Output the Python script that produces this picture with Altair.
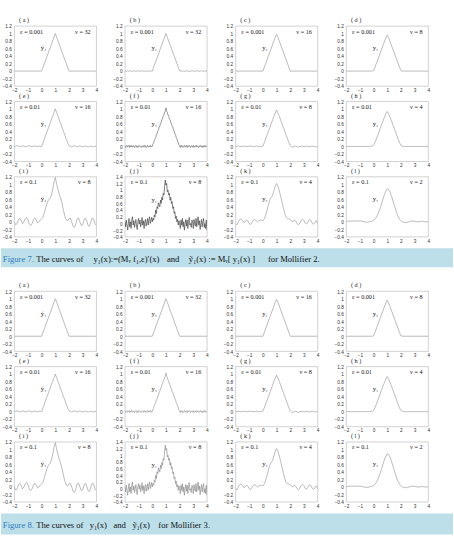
import altair as alt
import numpy as np
import pandas as pd

SERIF = "Liberation Serif"
SANS = "Liberation Sans"
BAND = "#bcdfea"
FIGBLUE = "#2f7cc0"

X_TICKS = [-2, -1, 0, 1, 2, 3, 4]
Y_TICKS = [-0.4, -0.2, 0, 0.2, 0.4, 0.6, 0.8, 1, 1.2]
Y_TICKS_J = [-0.4, -0.2, 0, 0.2, 0.4, 0.6, 0.8, 1, 1.2, 1.4]

# clean / nearly clean triangles
A_X = [-2, 0, 1, 2, 4]
A_Y = [0, 0, 1, 0, 0]
C_X = [-2, 0, 0.9, 1, 1.1, 2, 4]
C_Y = [0, 0, 0.9, 0.98, 0.9, 0, 0]
D_X = [-2, -0.1, 0, 0.1, 0.9, 1, 1.1, 1.9, 2, 2.1, 4]
D_Y = [0, 0, 0.01, 0.1, 0.89, 0.96, 0.89, 0.1, 0.01, 0, 0]

# samples every 0.1 from -2 to 4
B_Y = [0.01, -0.01, 0.01, -0.005, 0.01, -0.01, 0.005, 0.01, -0.01, 0.0,
       0.01, -0.01, 0.01, -0.005, 0.005, -0.01, 0.01, -0.01, 0.005, 0.0,
       0.0, 0.1, 0.21, 0.3, 0.4, 0.5, 0.61, 0.7, 0.8, 0.9, 1.0,
       0.9, 0.8, 0.7, 0.6, 0.5, 0.4, 0.3, 0.2, 0.1, 0.0,
       0.01, -0.01, 0.005, -0.01, 0.01, 0.0, -0.01, 0.01, -0.005, 0.01,
       -0.01, 0.005, 0.01, -0.01, 0.0, 0.01, -0.01, 0.005, -0.005, 0.01]
E_Y = [0.0, 0.01, 0.02, 0.01, -0.01, 0.0, 0.015, 0.01, -0.005, 0.0,
       0.01, 0.02, 0.0, -0.01, 0.005, 0.015, 0.0, -0.005, 0.01, 0.0,
       0.0, 0.1, 0.2, 0.31, 0.4, 0.5, 0.6, 0.71, 0.8, 0.9, 1.0,
       0.9, 0.8, 0.7, 0.6, 0.5, 0.4, 0.3, 0.19, 0.1, 0.02,
       0.0, -0.01, 0.01, 0.02, 0.0, -0.01, 0.005, 0.015, 0.0, -0.01,
       0.0, 0.01, 0.0, -0.015, 0.0, 0.01, 0.005, -0.01, 0.0, 0.01]
G_Y = [0.0, 0.005, 0.01, 0.0, -0.005, 0.0, 0.01, 0.005, -0.005, 0.0,
       0.005, 0.01, 0.0, -0.005, 0.0, 0.01, 0.005, -0.005, 0.0, 0.005,
       0.01, 0.1, 0.2, 0.3, 0.4, 0.5, 0.6, 0.7, 0.8, 0.89, 0.97,
       0.89, 0.8, 0.7, 0.6, 0.5, 0.4, 0.3, 0.2, 0.1, 0.02,
       -0.01, -0.02, 0.0, 0.01, -0.01, -0.02, 0.0, 0.01, 0.0, -0.01,
       0.0, 0.01, -0.005, -0.01, 0.0, 0.01, 0.0, -0.01, -0.005, 0.0]
H_Y = [0, 0, 0, 0, 0, 0, 0, 0, 0, 0, 0, 0, 0, 0, 0, 0, 0, 0, 0.005, 0.01,
       0.03, 0.1, 0.19, 0.29, 0.39, 0.49, 0.59, 0.69, 0.78, 0.87, 0.93,
       0.87, 0.78, 0.69, 0.59, 0.49, 0.39, 0.29, 0.19, 0.1,
       0.03, 0.01, 0.0, -0.005, -0.005, 0, 0, 0, 0, 0, 0, 0, 0, 0, 0, 0, 0, 0, 0, 0, 0]
I_Y = [0.0, -0.08, -0.05, 0.05, 0.1, 0.03, -0.05, 0.0, 0.08, 0.12,
       0.05, -0.06, -0.1, -0.05, 0.05, 0.1, 0.05, -0.03, 0.0, 0.05,
       0.08, 0.12, 0.25, 0.38, 0.5, 0.58, 0.62, 0.7, 0.85, 1.05,
       1.18, 1.0, 0.85, 0.72, 0.62, 0.48, 0.3, 0.15, 0.05, 0.02,
       0.08, 0.1, 0.0, -0.12, -0.15, -0.05, 0.08, 0.1, 0.0, -0.1,
       -0.08, 0.05, 0.1, 0.02, -0.1, -0.12, 0.0, 0.1, 0.08, -0.05, -0.1]
K_Y = [-0.05, -0.08, 0.0, 0.06, 0.08, 0.04, -0.02, 0.0, 0.05, 0.02,
       -0.05, -0.07, -0.02, 0.04, 0.06, 0.03, 0.0, 0.02, 0.05, 0.04,
       0.03, 0.08, 0.18, 0.3, 0.45, 0.58, 0.65, 0.7, 0.82, 0.95,
       1.02, 0.95, 0.82, 0.68, 0.52, 0.36, 0.22, 0.12, 0.08, 0.08,
       0.06, 0.02, 0.0, 0.05, 0.02, -0.05, -0.08, -0.03, 0.04, 0.07,
       0.03, -0.04, -0.06, 0.0, 0.06, 0.04, -0.03, -0.07, -0.02, 0.03, -0.05]
L_Y = [0.0, 0.01, 0.02, 0.02, 0.02, 0.02, 0.02, 0.02, 0.02, 0.02,
       0.02, 0.02, 0.01, 0.0, -0.01, -0.01, -0.01, 0.0, 0.01, 0.02,
       0.04, 0.07, 0.12, 0.19, 0.28, 0.38, 0.5, 0.62, 0.73, 0.82,
       0.88, 0.86, 0.8, 0.7, 0.58, 0.46, 0.34, 0.23, 0.14, 0.07,
       0.03, 0.0, -0.01, -0.02, -0.02, -0.01, 0.0, 0.01, 0.02, 0.02,
       0.01, 0.01, 0.0, 0.0, 0.0, 0.01, 0.01, 0.0, 0.0, 0.0, 0.0]

# samples every 0.05 from -2 to 4
F_Y = [0.02, -0.03, 0.01, 0.03, -0.02, 0.0, 0.03, -0.03, 0.02, -0.01,
       0.03, -0.02, 0.01, 0.02, -0.03, 0.0, 0.03, -0.02, 0.01, -0.03,
       0.02, 0.03, -0.01, 0.0, -0.03, 0.02, 0.01, -0.02, 0.03, -0.01,
       0.02, -0.03, 0.0, 0.03, -0.02, 0.01, -0.01, 0.03, -0.02, 0.01,
       0.0, 0.07, 0.09, 0.17, 0.2, 0.23, 0.32, 0.33, 0.42, 0.43,
       0.52, 0.53, 0.62, 0.63, 0.72, 0.73, 0.82, 0.83, 0.92, 0.93,
       1.03, 0.93, 0.92, 0.83, 0.82, 0.73, 0.72, 0.63, 0.62, 0.53,
       0.52, 0.43, 0.42, 0.33, 0.32, 0.23, 0.22, 0.13, 0.12, 0.03,
       0.02, -0.03, 0.03, -0.01, 0.02, -0.03, 0.0, 0.03, -0.02, 0.01,
       0.03, -0.03, 0.02, -0.01, 0.03, 0.0, -0.03, 0.02, 0.01, -0.02,
       0.03, -0.03, 0.0, 0.02, -0.02, 0.03, -0.01, 0.01, -0.03, 0.02,
       0.0, 0.03, -0.02, 0.01, -0.03, 0.02, -0.01, 0.03, -0.02, 0.0, 0.02]
J_Y = [0.05, -0.1, 0.1, -0.05, -0.2, 0.0, 0.15, -0.1, 0.05, -0.15,
       0.1, 0.2, -0.05, 0.08, -0.12, 0.0, 0.12, -0.08, -0.18, 0.05,
       0.15, -0.02, 0.1, -0.1, 0.0, 0.18, -0.05, 0.08, -0.15, 0.05,
       0.12, -0.08, 0.02, 0.15, -0.05, 0.1, 0.2, 0.0, 0.08, 0.18,
       0.05, 0.15, 0.1, 0.25, 0.2, 0.4, 0.3, 0.5, 0.45, 0.62,
       0.55, 0.5, 0.7, 0.6, 0.78, 0.7, 0.9, 0.85, 1.1, 1.3,
       1.15, 1.2, 0.95, 1.0, 0.85, 0.9, 0.7, 0.78, 0.6, 0.65,
       0.45, 0.5, 0.3, 0.35, 0.15, 0.22, 0.05, 0.12, -0.05, 0.08,
       0.0, -0.15, 0.1, -0.05, 0.15, -0.1, 0.05, -0.2, 0.0, 0.12,
       -0.08, 0.1, -0.15, 0.05, 0.18, -0.05, 0.0, -0.12, 0.1, 0.05,
       -0.15, 0.12, 0.0, -0.08, 0.15, -0.1, 0.05, 0.2, -0.05, 0.08,
       -0.18, 0.0, 0.12, -0.1, 0.05, 0.15, -0.12, 0.0, -0.15, 0.1, -0.2]

YT = "ỹ₁"
YP = "y₁"
GRAY = "#9a9a9a"

# letter, eps, nu, label, xs, ys, color, yticks
FIG7 = [
    ("a", "0.001", "32", YT, A_X, A_Y, GRAY, Y_TICKS),
    ("b", "0.001", "32", YP, None, B_Y, GRAY, Y_TICKS),
    ("c", "0.001", "16", YP, C_X, C_Y, GRAY, Y_TICKS),
    ("d", "0.001", "8", YP, D_X, D_Y, GRAY, Y_TICKS),
    ("e", "0.01", "16", YT, None, E_Y, GRAY, Y_TICKS),
    ("f", "0.01", "16", YP, None, F_Y, "#707070", Y_TICKS),
    ("g", "0.01", "8", YP, None, G_Y, GRAY, Y_TICKS),
    ("h", "0.01", "4", YP, None, H_Y, GRAY, Y_TICKS),
    ("i", "0.1", "8", YT, None, I_Y, GRAY, Y_TICKS),
    ("j", "0.1", "8", YP, None, J_Y, "#404040", Y_TICKS_J),
    ("k", "0.1", "4", YP, None, K_Y, GRAY, Y_TICKS),
    ("l", "0.1", "2", YP, None, L_Y, GRAY, Y_TICKS),
]
FIG8 = [
    ("a", "0.001", "32", YT, A_X, A_Y, GRAY, Y_TICKS),
    ("b", "0.001", "32", YP, A_X, A_Y, GRAY, Y_TICKS),
    ("c", "0.001", "16", YP, C_X, C_Y, GRAY, Y_TICKS),
    ("d", "0.001", "8", YP, D_X, D_Y, GRAY, Y_TICKS),
    ("e", "0.01", "16", YT, None, E_Y, GRAY, Y_TICKS),
    ("f", "0.01", "16", YP, None, F_Y, GRAY, Y_TICKS),
    ("g", "0.01", "8", YP, None, G_Y, GRAY, Y_TICKS),
    ("h", "0.01", "4", YP, None, H_Y, GRAY, Y_TICKS),
    ("i", "0.1", "8", YT, None, I_Y, GRAY, Y_TICKS),
    ("j", "0.1", "8", YP, None, J_Y, "#8a8a8a", Y_TICKS_J),
    ("k", "0.1", "4", YP, None, K_Y, GRAY, Y_TICKS),
    ("l", "0.1", "2", YP, None, L_Y, GRAY, Y_TICKS),
]

# caption pieces and their left offsets (px)
CAP7 = [("Figure 7.", 2, FIGBLUE), ("The curves of", 37, "#111"),
        ("y₁(x):=(Mᵥ f₁,ε)′(x)", 97, "#111"), ("and", 174, "#111"),
        ("ỹ₁(x) := Mᵥ[ y₁(x) ]", 197, "#111"), ("for Mollifier 2.", 280, "#111")]
CAP8 = [("Figure 8.", 2, FIGBLUE), ("The curves of", 37, "#111"),
        ("y₁(x)", 93, "#111"), ("and", 118, "#111"),
        ("ỹ₁(x)", 138, "#111"), ("for Mollifier 3.", 165, "#111")]

PW, PH = 86, 63


def panel(letter, eps, nu, lab, xs, ys, color, yticks):
    if xs is None:
        xs = np.linspace(-2, 4, len(ys))
    df = pd.DataFrame({"x": xs, "y": ys})
    ymax = yticks[-1]
    xsc = alt.Scale(domain=[-2, 4], nice=False, zero=False)
    ysc = alt.Scale(domain=[-0.4, ymax], nice=False, zero=False)
    xax = alt.Axis(values=X_TICKS, format="d", title=None, labelPadding=1.5)
    yax = alt.Axis(values=yticks, format="~g", title=None, labelPadding=3)
    line = alt.Chart(df).mark_line(color=color, strokeWidth=0.7, clip=True).encode(
        x=alt.X("x:Q", scale=xsc, axis=xax),
        y=alt.Y("y:Q", scale=ysc, axis=yax),
    )
    ann = pd.DataFrame({"e": ["ε = " + eps], "n": ["ν = " + nu], "l": [lab],
                        "lx": [0.15], "ly": [0.6 if ymax < 1.3 else 0.7]})
    t_eps = alt.Chart(ann).mark_text(align="left", baseline="middle", font=SERIF,
                                     fontSize=6.5, color="#222").encode(
        x=alt.value(6), y=alt.value(6), text="e:N")
    t_nu = alt.Chart(ann).mark_text(align="right", baseline="middle", font=SERIF,
                                    fontSize=6.5, color="#222").encode(
        x=alt.value(80), y=alt.value(6), text="n:N")
    t_lab = alt.Chart(ann).mark_text(align="center", baseline="middle", font=SERIF,
                                     fontSize=7, color="#222").encode(
        x=alt.X("lx:Q", scale=xsc, axis=xax),
        y=alt.Y("ly:Q", scale=ysc, axis=yax), text="l:N")
    return alt.layer(line, t_eps, t_nu, t_lab).properties(
        width=PW, height=PH,
        title=alt.TitleParams("( " + letter + " )", anchor="start", frame="group",
                              dx=5, offset=0.5, fontSize=6.5, font=SERIF,
                              fontWeight="normal", color="#222"))


def grid(spec):
    return alt.concat(*[panel(*p) for p in spec], columns=4,
                      spacing={"row": 16, "column": 30}, bounds="flush")


def caption(pieces, h, bandh, ty):
    df = pd.DataFrame({"t": [p[0] for p in pieces]})
    band = alt.Chart(df.head(1)).mark_rect(color=BAND).encode(
        x=alt.value(-14), x2=alt.value(460), y=alt.value(0), y2=alt.value(bandh))
    layers = [band]
    for i, (txt, px, col) in enumerate(pieces):
        layers.append(
            alt.Chart(df.iloc[[i]]).mark_text(align="left", baseline="middle", font=SERIF,
                                              fontSize=9, color=col).encode(
                x=alt.value(px - 14), y=alt.value(ty), text="t:N"))
    return alt.layer(*layers).properties(width=434, height=h,
                                         view=alt.ViewBackground(stroke="transparent"))


chart = alt.vconcat(
    grid(FIG7), caption(CAP7, 30, 20, 11), grid(FIG8), caption(CAP8, 22, 22, 12),
    spacing=4, bounds="full"
).properties(
    padding={"left": 0, "top": 4, "right": 0, "bottom": 0}
).configure_view(
    stroke="#b0b0b0", strokeWidth=0.6
).configure_axis(
    labelFont=SANS, labelFontSize=5, labelColor="#333", ticks=False,
    domain=False, grid=False, labelFlush=False, labelOverlap=False
)

chart.save("out.html", embed_options={"renderer": "svg", "actions": False})
